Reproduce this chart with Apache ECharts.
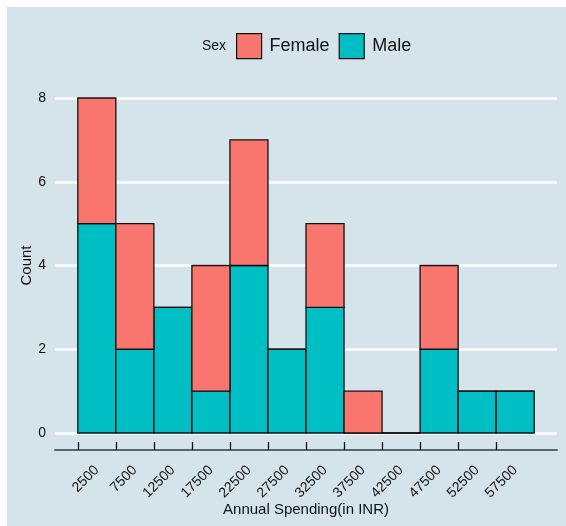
<!DOCTYPE html>
<html>
<head>
<meta charset="utf-8">
<script src="https://cdn.jsdelivr.net/npm/echarts@6/dist/echarts.min.js"></script>
<style>
  html, body { margin: 0; padding: 0; background: #ffffff; }
  #chart { width: 566px; height: 526px; }
</style>
</head>
<body>
<div id="chart"></div>
<script>
// Histogram of annual spending, 5000-wide bins, stacked by sex
const binCenters = [2500, 7500, 12500, 17500, 22500, 27500, 32500, 37500, 42500, 47500, 52500, 57500];
const binWidth = 5000;
const maleCounts = [5, 2, 3, 1, 4, 2, 3, 0, 0, 2, 1, 1];
const femaleCounts = [3, 3, 0, 3, 3, 0, 2, 1, 0, 2, 0, 0];
const binEdges = [0, 5000, 10000, 15000, 20000, 25000, 30000, 35000, 40000, 45000, 50000, 55000];
const countTicks = [0, 2, 4, 6, 8];

const femaleColor = '#F8766D';
const maleColor = '#00BFC4';
const panelBg = '#D5E4EB';

// [left edge, right edge, bottom, top]
const maleRects = binCenters.map((c, i) => [c - binWidth / 2, c + binWidth / 2, 0, maleCounts[i]]);
const femaleRects = binCenters.map((c, i) => [c - binWidth / 2, c + binWidth / 2, maleCounts[i], maleCounts[i] + femaleCounts[i]]);

function renderBin(params, api) {
  const p0 = api.coord([api.value(0), api.value(2)]);
  const p1 = api.coord([api.value(1), api.value(3)]);
  return {
    type: 'rect',
    shape: { x: p0[0], y: p1[1], width: p1[0] - p0[0], height: p0[1] - p1[1] },
    style: { fill: api.visual('color'), stroke: '#111111', lineWidth: 1.3 }
  };
}

const chart = echarts.init(document.getElementById('chart'));
chart.setOption({
  backgroundColor: panelBg,
  animation: false,
  textStyle: { fontFamily: 'Liberation Sans, Arial, sans-serif' },
  graphic: [
    { type: 'rect', shape: { x: 0, y: 0, width: 566, height: 7 }, style: { fill: '#ffffff' }, silent: true },
    { type: 'rect', shape: { x: 0, y: 0, width: 7, height: 526 }, style: { fill: '#ffffff' }, silent: true },
    { type: 'text', left: 202, top: 39, style: { text: 'Sex', fontSize: 14, fill: '#111111', fontFamily: 'Liberation Sans, Arial, sans-serif' } }
  ],
  legend: {
    left: 236,
    top: 33,
    padding: 0,
    itemWidth: 25,
    itemHeight: 25,
    itemGap: 9,
    icon: 'rect',
    textStyle: { fontSize: 18, color: '#111111', padding: [0, 0, 0, 3] },
    data: [
      { name: 'Female', itemStyle: { color: femaleColor, borderColor: '#111111', borderWidth: 1.2 } },
      { name: 'Male', itemStyle: { color: maleColor, borderColor: '#111111', borderWidth: 1.2 } }
    ]
  },
  grid: { left: 55, right: 9, top: 98, bottom: 93, containLabel: false, outerBoundsMode: 'none' },
  xAxis: {
    type: 'value',
    min: -3000,
    max: 63000,
    offset: 17,
    name: 'Annual Spending(in INR)',
    nameLocation: 'middle',
    nameGap: 52,
    nameMoveOverlap: false,
    nameTextStyle: { fontSize: 15, color: '#111111' },
    axisLine: { show: true, onZero: false, lineStyle: { color: '#5b6470', width: 2 } },
    axisTick: { show: true, inside: true, length: 8, customValues: binEdges, lineStyle: { color: '#111111', width: 1.3 } },
    axisLabel: {
      customValues: binCenters,
      rotate: 45,
      margin: 18,
      fontSize: 14,
      color: '#111111',
      formatter: v => String(v)
    },
    splitLine: { show: false }
  },
  yAxis: {
    type: 'value',
    min: 0,
    max: 8,
    interval: 2,
    name: 'Count',
    nameLocation: 'middle',
    nameGap: 21,
    nameMoveOverlap: false,
    nameTextStyle: { fontSize: 15, color: '#111111' },
    axisLine: { show: false },
    axisTick: { show: false },
    axisLabel: { customValues: countTicks, fontSize: 14, color: '#111111', margin: 9 },
    splitLine: { show: true, lineStyle: { color: '#ffffff', width: 2.5 } }
  },
  series: [
    {
      name: 'Male',
      type: 'custom',
      renderItem: renderBin,
      itemStyle: { color: maleColor },
      encode: { x: [0, 1], y: [2, 3] },
      data: maleRects,
      z: 3
    },
    {
      name: 'Female',
      type: 'custom',
      renderItem: renderBin,
      itemStyle: { color: femaleColor },
      encode: { x: [0, 1], y: [2, 3] },
      data: femaleRects,
      z: 3
    }
  ]
});
</script>
</body>
</html>
